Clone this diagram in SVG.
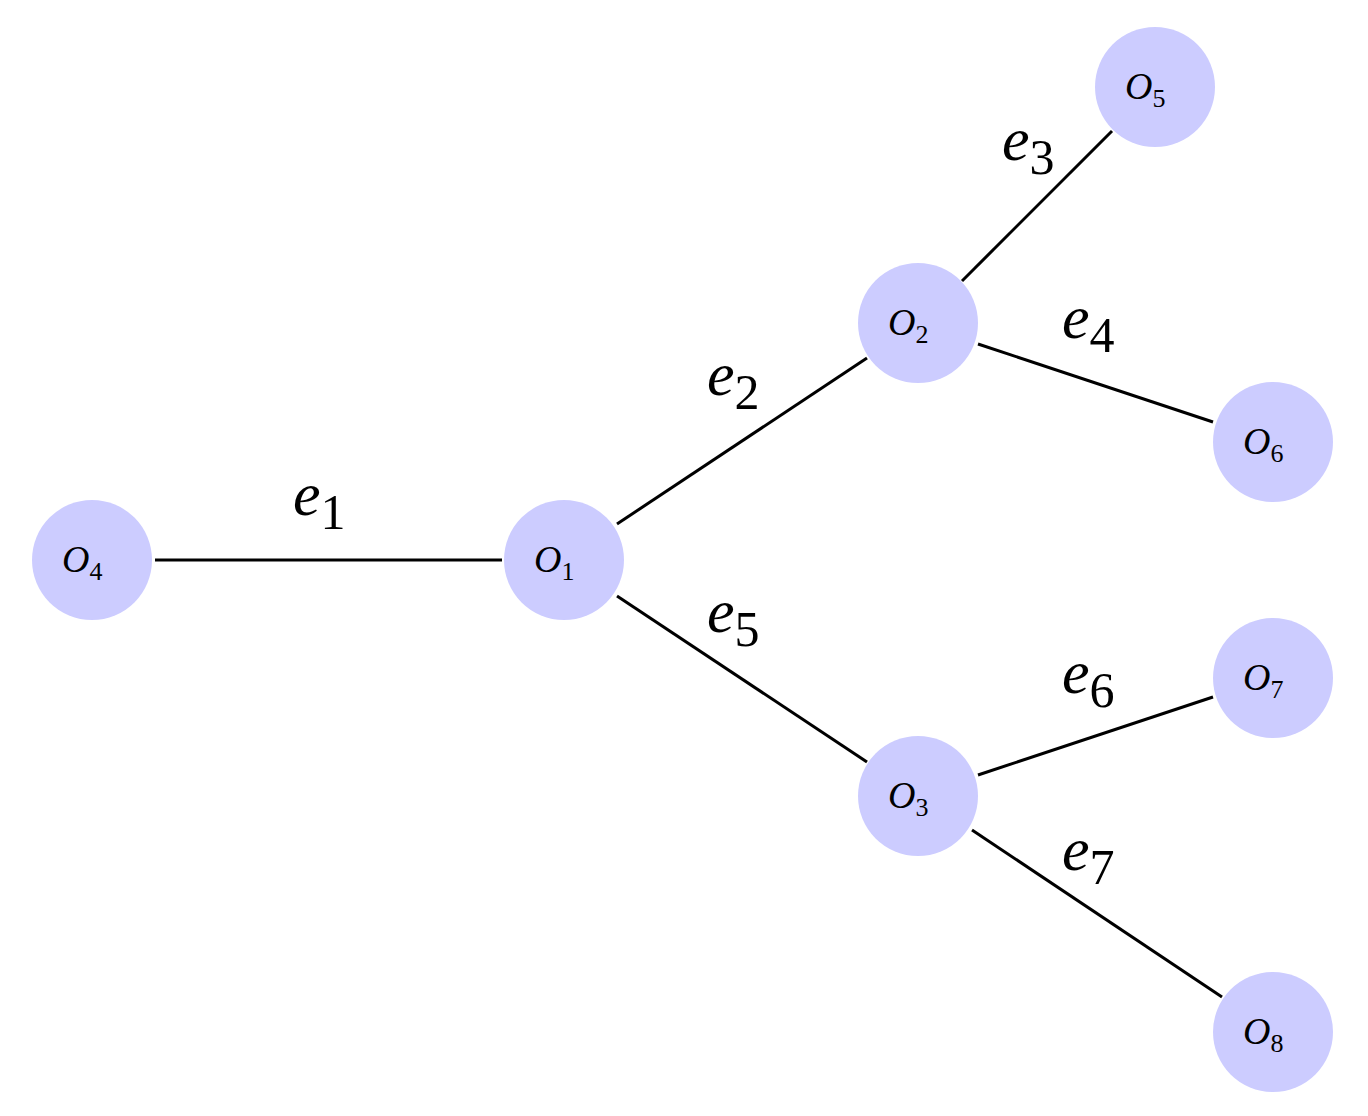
<svg xmlns="http://www.w3.org/2000/svg" width="1368" height="1116" viewBox="0 0 1368 1116">
<style>
.n{fill:#ccccff}
.c{stroke:#000;stroke-width:3;fill:none}
.t{font-family:"Liberation Serif",serif;font-size:38px;font-style:italic}
.s{font-size:26px;font-style:normal}
.e{font-family:"Liberation Serif",serif;font-size:62px;font-style:italic}
.es{font-size:50px;font-style:normal}
</style>
<rect width="1368" height="1116" fill="#fff"/>
<g id="connectors">
<line class="c" x1="155" y1="560" x2="502" y2="560"/>
<line class="c" x1="617" y1="524" x2="867" y2="358"/>
<line class="c" x1="962" y1="281" x2="1112" y2="131"/>
<line class="c" x1="978" y1="344" x2="1213" y2="422"/>
<line class="c" x1="617" y1="596" x2="867" y2="762"/>
<line class="c" x1="978" y1="775" x2="1213" y2="697"/>
<line class="c" x1="972" y1="830" x2="1222" y2="997"/>
<text class="e" x="293" y="515">e<tspan class="es" dy="14">1</tspan></text>
<text class="e" x="707" y="395">e<tspan class="es" dy="14">2</tspan></text>
<text class="e" x="1002" y="160">e<tspan class="es" dy="14">3</tspan></text>
<text class="e" x="1062" y="338">e<tspan class="es" dy="14">4</tspan></text>
<text class="e" x="707" y="632">e<tspan class="es" dy="14">5</tspan></text>
<text class="e" x="1062" y="693">e<tspan class="es" dy="14">6</tspan></text>
<text class="e" x="1062" y="870">e<tspan class="es" dy="14">7</tspan></text>
</g>
<g id="O4"><circle class="n" cx="92" cy="560" r="60"/><text class="t" x="62" y="572">O<tspan class="s" dy="8">4</tspan></text></g>
<g id="O1"><circle class="n" cx="564" cy="560" r="60"/><text class="t" x="534" y="572">O<tspan class="s" dy="8">1</tspan></text></g>
<g id="O2"><circle class="n" cx="918" cy="323" r="60"/><text class="t" x="888" y="335">O<tspan class="s" dy="8">2</tspan></text></g>
<g id="O3"><circle class="n" cx="918" cy="796" r="60"/><text class="t" x="888" y="808">O<tspan class="s" dy="8">3</tspan></text></g>
<g id="O5"><circle class="n" cx="1155" cy="87" r="60"/><text class="t" x="1125" y="99">O<tspan class="s" dy="8">5</tspan></text></g>
<g id="O6"><circle class="n" cx="1273" cy="442" r="60"/><text class="t" x="1243" y="454">O<tspan class="s" dy="8">6</tspan></text></g>
<g id="O7"><circle class="n" cx="1273" cy="678" r="60"/><text class="t" x="1243" y="690">O<tspan class="s" dy="8">7</tspan></text></g>
<g id="O8"><circle class="n" cx="1273" cy="1032" r="60"/><text class="t" x="1243" y="1044">O<tspan class="s" dy="8">8</tspan></text></g>
</svg>
